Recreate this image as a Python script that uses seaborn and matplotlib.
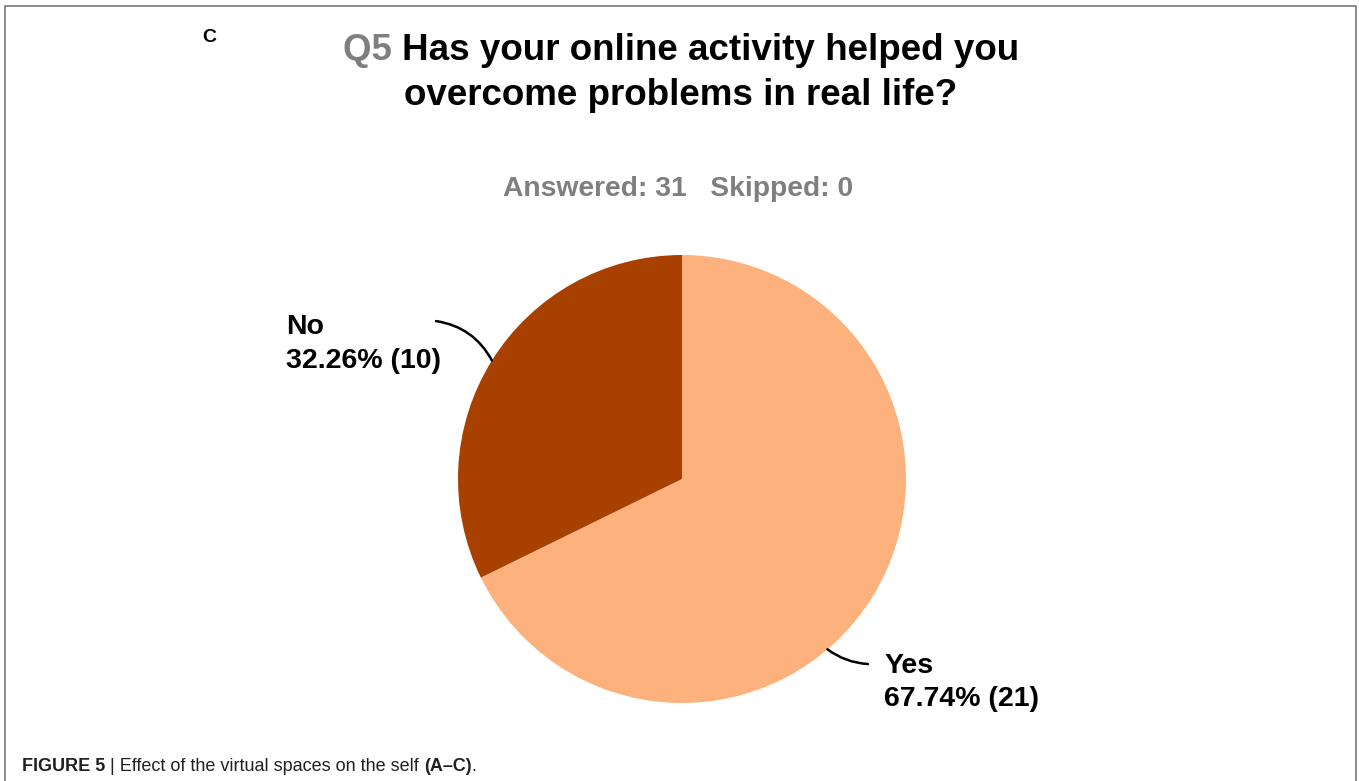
import numpy as np
import matplotlib
matplotlib.use("Agg")
import matplotlib.pyplot as plt
from matplotlib.lines import Line2D
import seaborn as sns

# Survey answers
answers = ["Yes", "No"]
counts = [21, 10]
percents = [67.74, 32.26]
slice_colors = ["#FDB27E", "#A84000"]

panel_letter = "C"
question_id = "Q5"
question_line1 = "Has your online activity helped you"
question_line2 = "overcome problems in real life?"
answered, skipped = 31, 0

sns.set_theme(style="white")
plt.rcParams["font.family"] = ["Liberation Sans", "DejaVu Sans"]

W, H = 1359, 781
fig = plt.figure(figsize=(W / 100, H / 100), dpi=100)
fig.patch.set_facecolor("white")


def fx(px):
    return px / W


def fy(py):
    return 1 - py / H


# open frame around the panel
fig.add_artist(Line2D([fx(5), fx(5), fx(1356), fx(1356)],
                      [fy(781), fy(6), fy(6), fy(781)],
                      transform=fig.transFigure, color="#8a8a8a", lw=1.4))

# pie axes: centre (682, 479), radius 224 px
cx, cy, r = 682, 479, 224
ax = fig.add_axes([fx(cx - r), fy(cy + r), 2 * r / W, 2 * r / H])
wedges, _ = ax.pie(counts, colors=slice_colors, startangle=90, counterclock=False,
                   radius=1.0, wedgeprops=dict(linewidth=0))
ax.set_xlim(-1, 1)
ax.set_ylim(-1, 1)
ax.set_aspect("equal")
ax.axis("off")

# label placement (data units of the pie axes)
label_pos = {"Yes": (0.902, -0.775), "No": (-1.768, 0.736)}
leader_end = {"Yes": (0.83, -0.826), "No": (-1.098, 0.705)}
leader_angle = {"Yes": -49.5, "No": None}
leader_rad = {"Yes": -0.15, "No": -0.25}

for w, name, n, p in zip(wedges, answers, counts, percents):
    ang = leader_angle[name]
    if ang is None:
        ang = (w.theta1 + w.theta2) / 2
    a = np.deg2rad(ang)
    start = (np.cos(a), np.sin(a))
    ax.annotate("", xy=start, xytext=leader_end[name],
                arrowprops=dict(arrowstyle="-", color="black", lw=1.8,
                                connectionstyle=f"arc3,rad={leader_rad[name]}",
                                shrinkA=0, shrinkB=0),
                annotation_clip=False)
    ax.text(*label_pos[name], f"{name}\n{p:.2f}% ({n})", ha="left", va="top",
            fontsize=20.5, fontweight="bold", color="black", linespacing=1.38,
            clip_on=False)

renderer = fig.canvas.get_renderer()


def run_of_text(parts, x_px, y_px, size, align="left"):
    """Draw consecutive text pieces with individual weights/colours on one baseline."""
    objs = []
    for s, weight, color in parts:
        t = fig.text(0, fy(y_px), s, fontsize=size, fontweight=weight, color=color,
                     va="baseline", ha="left")
        objs.append(t)
    widths = [t.get_window_extent(renderer).width for t in objs]
    total = sum(widths)
    x0 = x_px - total / 2 if align == "center" else x_px
    for t, wdt in zip(objs, widths):
        t.set_x(fx(x0))
        x0 += wdt


fig.text(fx(209), fy(42), panel_letter, fontsize=14, fontweight="bold",
         ha="center", va="baseline", color="black")

run_of_text([(question_id + " ", "bold", "#7f7f7f"),
             (question_line1, "bold", "black")], 681, 60, 26.5, align="center")
run_of_text([(question_line2, "bold", "black")], 681, 105, 26.5, align="center")

run_of_text([(f"Answered: {answered}   Skipped: {skipped}", "bold", "#7f7f7f")],
            678, 196, 20.3, align="center")

cap_color = "#231f20"
run_of_text([("FIGURE 5", "bold", cap_color),
             (" | Effect of the virtual spaces on the self ", "normal", cap_color),
             ("(A\u2013C)", "bold", cap_color),
             (".", "normal", cap_color)], 22, 771, 13)

fig.savefig("out.png", dpi=100, facecolor="white")
